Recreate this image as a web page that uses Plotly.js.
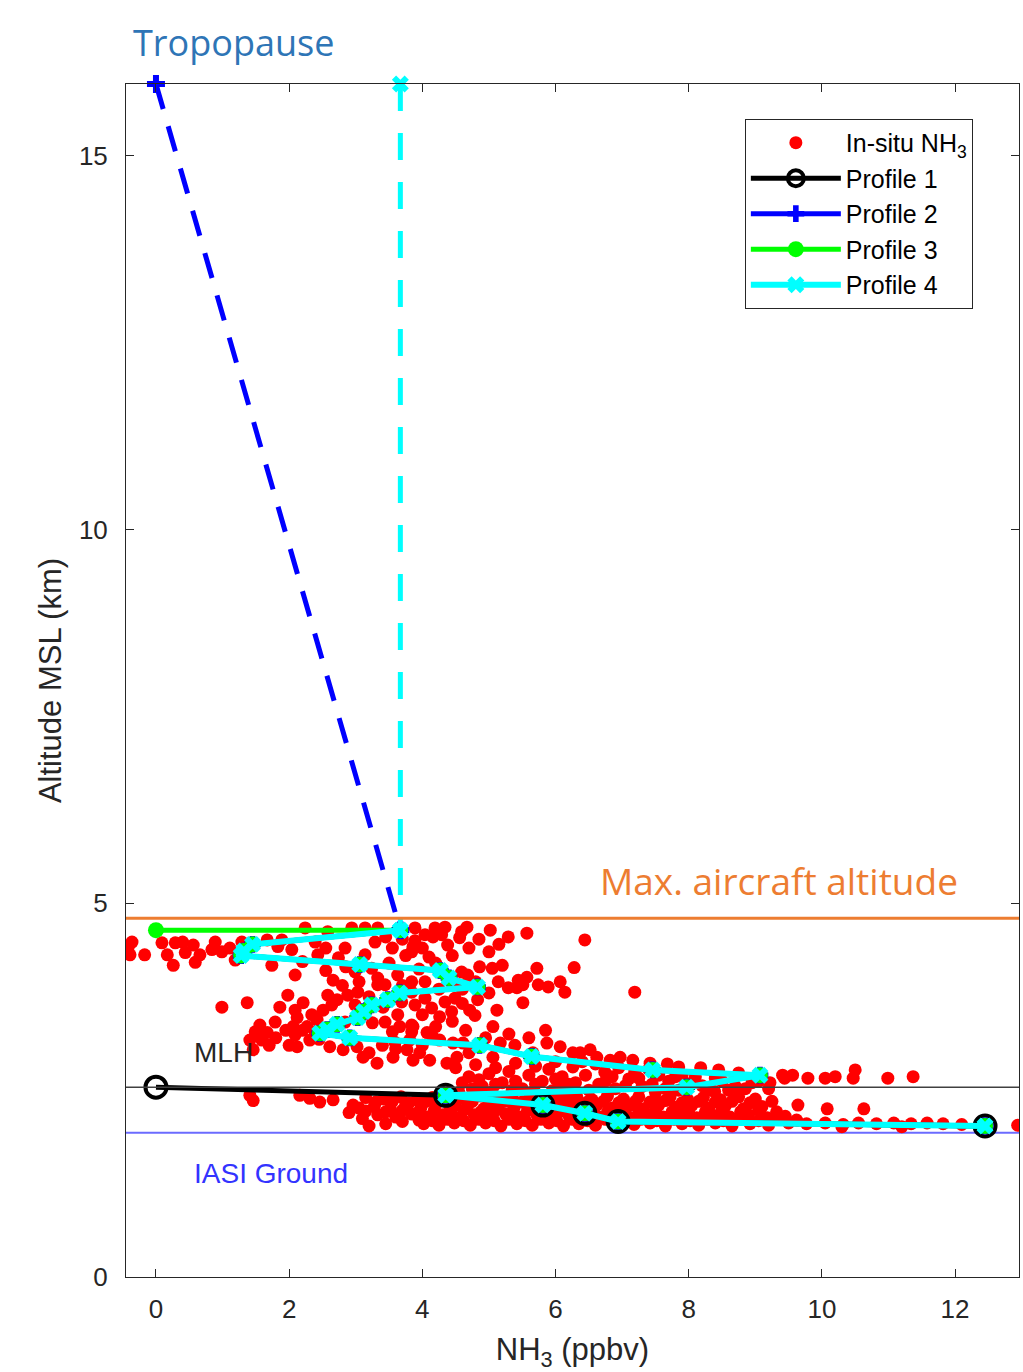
<!DOCTYPE html>
<html>
<head>
<meta charset="utf-8">
<script src="https://cdn.plot.ly/plotly-3.0.1.min.js"></script>
<style>
  html, body { margin: 0; padding: 0; background: #ffffff; }
  #chart { width: 1023px; height: 1372px; }
</style>
</head>
<body>
<div id="chart"></div>
<script>
// ---------------- DATA ----------------
// In-situ NH3 aircraft samples [NH3 ppbv, altitude km]
const insituUpper = [
  [-0.42,4.40],[-0.36,4.48],[-0.39,4.31],[-0.17,4.31],[0.09,4.47],[0.17,4.31],[0.26,4.17],[0.29,4.47],
  [0.40,4.48],[0.44,4.34],[0.56,4.44],[0.59,4.21],[0.66,4.31],[0.84,4.38],[0.89,4.48],[0.99,4.35],
  [1.11,4.40],[1.19,4.24],[1.29,4.48],[1.67,4.51],[1.74,4.17],[1.83,4.42],[1.89,4.51],[2.04,4.38],
  [2.09,4.04],[2.20,4.22],[2.24,4.67],[2.39,4.48],[2.43,4.31],[2.55,4.40],[2.58,4.62],[2.66,3.97],
  [2.74,4.27],[2.84,4.40],[2.94,4.67],[2.99,4.08],[3.14,4.31],[3.14,4.67],[3.24,4.13],[3.29,4.48],
  [3.33,4.67],[3.33,4.00],[3.44,3.91],[3.63,4.04],[3.84,4.35],[3.84,3.95],[3.86,4.42],[3.89,4.67],
  [3.89,4.50],[4.00,4.40],[4.04,4.58],[4.04,3.95],[4.16,4.55],[4.19,4.67],[4.29,4.58],[4.34,4.68],
  [4.38,4.44],[4.49,3.93],[4.56,4.54],[4.59,4.62],[4.59,4.08],[4.67,4.68],[4.68,4.04],[4.86,4.15],
  [5.02,4.64],[5.05,4.13],[5.14,3.95],[5.20,4.17],[5.29,4.55],[5.29,3.87],[5.42,3.87],[5.44,3.97],
  [5.57,4.60],[5.57,4.01],[5.72,4.13],[5.74,3.91],[5.89,3.88],[6.07,3.95],[6.14,3.81],[6.28,4.14],
  [6.44,4.51],[7.19,3.81],
  [3.45,4.55],[3.55,4.40],[3.70,4.52],[3.75,4.30],[4.10,4.28],[4.45,4.30],[4.70,4.40],[4.85,4.52],
  [5.00,4.35],[5.15,4.45],[4.20,4.20],[3.50,4.20],[3.95,4.12],[4.80,3.95],[2.85,4.15],[2.55,4.10],
  [3.05,3.95],[2.80,3.90]
];
const insituMiddle = [
  [0.99,3.61],[1.37,3.67],[1.56,3.37],[1.49,3.28],[1.79,3.41],[1.86,3.61],[1.98,3.77],[2.09,3.57],
  [2.12,3.47],[2.21,3.67],[2.27,3.35],[2.34,3.51],[2.42,3.44],[2.51,3.57],[2.58,3.77],[2.64,3.64],
  [2.72,3.71],[2.88,3.77],[2.99,3.64],[2.84,3.41],[3.03,3.81],[3.33,3.91],[3.41,3.61],[3.44,3.41],
  [3.63,3.51],[3.69,3.68],[3.84,3.81],[3.84,3.37],[3.89,3.64],[4.00,3.51],[4.04,3.73],[4.14,3.60],
  [4.26,3.48],[4.34,3.68],[4.44,3.55],[4.49,3.73],[4.60,3.66],[4.71,3.57],[4.79,3.50],[4.83,3.71],
  [5.06,3.35],[5.12,3.57],[5.51,3.67],[5.51,3.91],[3.86,3.35],[3.66,3.35],[4.07,3.27],[3.84,3.28],
  [5.00,3.80],[4.60,3.85],[4.25,3.85],[3.70,3.90],[3.20,3.75],[3.00,3.45],[3.25,3.40],[3.55,3.28],
  [4.20,3.35],[4.45,3.42],[4.65,3.30]
];
const insituLowerMiddle = [
  [1.41,3.17],[1.46,3.04],[1.59,3.17],[1.67,3.27],[2.06,3.35],[2.09,3.24],[2.12,3.08],[2.31,3.17],
  [2.39,3.28],[2.61,3.08],[2.81,3.04],[3.02,3.08],[3.11,2.94],[3.32,2.86],[3.56,2.94],[3.59,3.14],
  [3.77,3.04],[3.81,3.17],[3.86,2.90],[3.96,3.00],[4.11,2.90],[4.16,3.21],[4.26,3.17],[4.37,2.86],
  [4.46,3.13],[4.52,2.94],[4.61,3.13],[5.06,2.94],[5.17,3.13],[5.39,3.10],[5.66,3.00],[5.87,3.13],
  [6.07,3.08],[6.26,3.00],[6.26,2.81],[6.37,3.00],[6.52,3.04],[6.62,2.94],[6.82,2.90],[6.97,2.94],
  [7.16,2.90],[7.42,2.86],[7.68,2.85],[7.85,2.81],[8.18,2.80],[8.45,2.77],[8.75,2.73],[9.41,2.70],
  [9.56,2.70],
  [4.95,3.20],[5.30,3.25],[5.60,3.20],[5.85,3.30],[3.40,3.10],[3.20,3.00],[3.60,3.05],[4.00,3.10],
  [4.70,3.00],[1.70,3.10],[1.95,3.30],[2.20,3.30],[2.45,3.18],[1.80,3.20],[2.00,3.10]
];
const insituNearMLH = [
  [6.74,2.74],[7.19,2.74],[6.60,2.85],[6.95,2.80],[7.40,2.78],[7.55,2.70],[7.90,2.70],[8.10,2.68],
  [9.22,2.60],[9.44,2.66],[9.79,2.66],[10.05,2.66],[10.20,2.68],[10.47,2.66],[10.50,2.77],[10.99,2.66],
  [11.37,2.68],[4.90,2.55],[5.20,2.60],[5.50,2.52],[5.80,2.62],[6.05,2.55],[6.30,2.60],[6.50,2.50],
  [6.75,2.62],[6.90,2.52],[7.10,2.65],[7.30,2.55],[7.50,2.47],[7.70,2.62],[7.85,2.50],[8.05,2.60],
  [8.30,2.50],[8.50,2.62],[8.70,2.55],[8.95,2.60],[9.20,2.52],[8.39,2.48],[4.70,2.68],[5.00,2.72],
  [5.30,2.75],[5.60,2.70],[5.90,2.78],[6.10,2.68],
  [4.55,2.47],[4.75,2.52],[5.05,2.48],[5.35,2.50],[5.65,2.47],[5.95,2.49],[6.20,2.47],[4.60,2.60],
  [4.85,2.64],[5.10,2.58],[5.40,2.62],[5.70,2.58],[6.00,2.65],[6.20,2.58],[6.45,2.70],[6.65,2.58],
  [6.85,2.68],[7.05,2.56],[7.25,2.66],[7.45,2.58],[7.65,2.52],[7.80,2.68],[7.95,2.58],[8.20,2.56],
  [8.40,2.66],[8.60,2.50],[8.85,2.52],[9.05,2.62],[4.50,2.80],[4.80,2.84],[5.10,2.80],[5.40,2.86],
  [5.70,2.82],[6.00,2.88],[6.40,2.88]
];
const insituBoundaryLayer = [
  [1.41,2.43],[1.46,2.36],[2.16,2.43],[2.31,2.39],[2.46,2.34],[2.66,2.37],[2.96,2.30],[3.15,2.40],
  [3.42,2.38],[3.68,2.41],[3.92,2.37],[4.15,2.40],[4.62,2.39],[4.88,2.42],[5.12,2.37],[5.35,2.41],
  [5.60,2.38],[5.85,2.42],[6.08,2.39],[6.32,2.41],[6.55,2.37],[6.78,2.42],[7.02,2.38],[7.25,2.41],
  [7.50,2.37],[7.72,2.41],[7.98,2.38],[8.22,2.40],[8.48,2.37],[8.75,2.41],[9.00,2.38],
  [3.30,2.34],[3.55,2.35],[3.80,2.33],[4.05,2.35],[4.50,2.34],[4.75,2.35],[5.00,2.33],[5.25,2.35],
  [5.50,2.34],[5.75,2.36],[6.00,2.33],[6.25,2.35],[6.48,2.34],[6.72,2.35],[6.95,2.33],[7.20,2.35],
  [7.42,2.34],[7.65,2.36],[7.90,2.33],[8.15,2.35],[8.40,2.34],[8.65,2.35],[8.92,2.33],[9.25,2.35],
  [3.05,2.26],[3.28,2.29],[3.52,2.25],[3.75,2.30],[3.98,2.27],[4.20,2.30],[4.45,2.26],[4.68,2.29],
  [4.92,2.25],[5.15,2.30],[5.38,2.27],[5.62,2.31],[5.95,2.26],[6.18,2.30],[6.40,2.27],[6.62,2.30],
  [6.85,2.26],[7.10,2.29],[7.32,2.25],[7.55,2.30],[7.80,2.27],[8.05,2.30],[8.30,2.26],[8.55,2.29],
  [8.82,2.25],[9.10,2.28],[9.64,2.30],[10.08,2.25],[10.63,2.25],
  [3.15,2.22],[3.45,2.21],[3.70,2.23],[3.95,2.21],[4.18,2.23],[4.40,2.21],[4.62,2.23],[4.88,2.21],
  [5.10,2.23],[5.35,2.21],[5.58,2.23],[5.82,2.21],[6.08,2.22],[6.32,2.23],[6.78,2.21],[7.00,2.23],
  [7.25,2.21],[7.50,2.23],[7.75,2.21],[8.00,2.23],[8.25,2.21],[8.50,2.23],[8.78,2.21],[9.05,2.23],
  [9.32,2.21],
  [3.33,2.17],[3.60,2.14],[3.84,2.18],[4.08,2.14],[4.30,2.17],[4.55,2.13],[4.78,2.17],[5.00,2.14],
  [5.25,2.18],[5.48,2.14],[5.72,2.17],[5.95,2.13],[6.20,2.16],[6.65,2.14],[6.90,2.17],[7.12,2.13],
  [7.38,2.16],[7.62,2.14],[7.88,2.17],[8.12,2.13],[8.38,2.16],[8.62,2.14],[8.90,2.17],[9.18,2.13],
  [9.45,2.15],
  [3.95,2.10],[4.15,2.09],[4.38,2.11],[4.62,2.09],[4.85,2.11],[5.08,2.09],[5.30,2.11],[5.55,2.09],
  [5.78,2.11],[6.02,2.09],[6.25,2.11],[6.48,2.09],[6.75,2.11],[7.00,2.10],[7.28,2.11],[7.52,2.09],
  [7.78,2.11],[8.02,2.09],[8.28,2.11],[8.52,2.09],[8.78,2.11],[9.05,2.09],[9.35,2.11],[9.62,2.10],
  [4.02,2.05],[4.25,2.03],[4.48,2.06],[4.72,2.03],[4.95,2.06],[5.18,2.02],[5.42,2.05],[5.65,2.03],
  [5.90,2.06],[6.12,2.02],[6.35,2.05],[6.60,2.03],[7.18,2.04],[7.42,2.06],[7.65,2.02],[7.90,2.05],
  [8.15,2.03],[8.40,2.06],[8.65,2.02],[8.92,2.05],[9.20,2.03],[9.50,2.06],[9.77,2.05],[10.05,2.06],
  [10.32,2.04],[10.55,2.06],[10.82,2.05],[11.08,2.06],[11.34,2.05],[11.58,2.06],[11.82,2.05],[12.10,2.04],
  [10.30,2.01],[11.20,2.01],[12.94,2.03],
  [2.90,2.20],[3.10,2.12],[3.45,2.05],[3.70,2.08],[3.20,2.02]
];

// Aircraft-derived profile points (shared by profiles 2, 3 and 4)
const aircraftX = [3.67, 1.45, 1.32, 1.28, 3.06, 4.27, 4.40, 4.83, 3.66, 3.48, 3.24, 3.12, 3.03, 2.72, 2.57, 2.46, 2.91, 4.86, 5.64, 7.46, 9.07, 7.97, 4.35, 5.81, 6.44, 6.94, 12.45];
const aircraftY = [4.64, 4.45, 4.36, 4.30, 4.18, 4.10, 4.00, 3.88, 3.80, 3.71, 3.64, 3.55, 3.47, 3.38, 3.31, 3.26, 3.20, 3.10, 2.95, 2.77, 2.70, 2.54, 2.43, 2.30, 2.19, 2.08, 2.02];

// Profile 1: zero above the mixing layer height
const profile1X = [0, 4.35, 5.81, 6.44, 6.94, 12.45];
const profile1Y = [2.54, 2.43, 2.30, 2.19, 2.08, 2.02];
// Profile 3: zero at maximum aircraft altitude
const profile3TopX = [0];
const profile3TopY = [4.64];
// Extrapolations to the tropopause
const tropopauseAlt = 15.96;
const profile2TropX = 0;      // Profile 2 decreases linearly to 0 at the tropopause
const profile4TropX = 3.67;   // Profile 4 constant up to the tropopause

// Reference altitudes (km)
const maxAircraftAlt = 4.80;
const mlhAlt = 2.54;
const iasiGroundAlt = 1.93;

// Axis ticks
const xTicks = [0, 2, 4, 6, 8, 10, 12];
const yTicks = [0, 5, 10, 15];
const xRange = [-0.45, 12.96];
const yRange = [0, 15.96];

// ---------------- BUILD ----------------
const insitu = [].concat(insituUpper, insituMiddle, insituLowerMiddle, insituNearMLH, insituBoundaryLayer);
const font = 'Liberation Sans, Arial, Helvetica, sans-serif';
const calibriLike = 'Open Sans, Noto Sans, sans-serif';
const axisColor = '#262626';

const traces = [
  {
    name: 'In-situ NH<sub>3</sub>', type: 'scatter', mode: 'markers',
    x: insitu.map(p => p[0]), y: insitu.map(p => p[1]),
    marker: { color: '#ff0000', size: 13, line: { width: 0 } }
  },
  {
    name: 'Profile 1', type: 'scatter', mode: 'lines+markers',
    x: profile1X, y: profile1Y,
    line: { color: '#000000', width: 5 },
    marker: { symbol: 'circle-open', color: '#000000', size: 21, line: { width: 4, color: '#000000' } }
  },
  {
    name: 'Profile 2', type: 'scatter', mode: 'lines+markers',
    x: aircraftX, y: aircraftY,
    line: { color: '#0000ff', width: 5 },
    marker: { symbol: 'cross', color: '#0000ff', size: 14 }
  },
  {
    name: 'Profile 2 extrapolation', type: 'scatter', mode: 'lines+markers', showlegend: false,
    x: [profile2TropX, aircraftX[0]], y: [tropopauseAlt, aircraftY[0]],
    line: { color: '#0000ff', width: 5, dash: '26px,18px' },
    marker: { symbol: 'cross', color: '#0000ff', size: 15 },
    cliponaxis: false
  },
  {
    name: 'Profile 3', type: 'scatter', mode: 'lines+markers',
    x: profile3TopX.concat(aircraftX), y: profile3TopY.concat(aircraftY),
    line: { color: '#00ff00', width: 5 },
    marker: { symbol: 'circle', color: '#00ff00', size: 16 }
  },
  {
    name: 'Profile 4', type: 'scatter', mode: 'lines+markers',
    x: aircraftX, y: aircraftY,
    line: { color: '#00ffff', width: 6 },
    marker: { symbol: 'x', color: '#00ffff', size: 15 }
  },
  {
    name: 'Profile 4 extrapolation', type: 'scatter', mode: 'lines+markers', showlegend: false,
    x: [profile4TropX, aircraftX[0]], y: [tropopauseAlt, aircraftY[0]],
    line: { color: '#00ffff', width: 5, dash: '27px,22px' },
    marker: { symbol: 'x', color: '#00ffff', size: 15 },
    cliponaxis: false
  }
];

const hline = (y, color, width, layer) => ({
  type: 'line', xref: 'x domain', x0: 0, x1: 1, yref: 'y', y0: y, y1: y,
  line: { color: color, width: width }, layer: layer
});

const layout = {
  width: 1023, height: 1372,
  margin: { l: 126, r: 4, t: 84, b: 95 },
  paper_bgcolor: '#ffffff', plot_bgcolor: '#ffffff',
  font: { family: font, color: axisColor },
  showlegend: true,
  xaxis: {
    range: xRange, tickvals: xTicks, ticktext: xTicks.map(String),
    ticks: 'inside', ticklen: 8, tickwidth: 1, tickcolor: axisColor,
    showline: true, linecolor: axisColor, linewidth: 1, mirror: 'ticks',
    showgrid: false, zeroline: false,
    tickfont: { family: font, size: 26, color: axisColor },
    ticklabelstandoff: 9,
    title: { text: 'NH<sub>3</sub> (ppbv)', font: { family: font, size: 31, color: axisColor }, standoff: 31 },
    automargin: false
  },
  yaxis: {
    range: yRange, tickvals: yTicks, ticktext: yTicks.map(String),
    ticks: 'inside', ticklen: 8, tickwidth: 1, tickcolor: axisColor,
    showline: true, linecolor: axisColor, linewidth: 1, mirror: 'ticks',
    showgrid: false, zeroline: false,
    tickfont: { family: font, size: 26, color: axisColor },
    ticklabelstandoff: 12,
    title: { text: 'Altitude MSL (km)', font: { family: font, size: 31, color: axisColor }, standoff: 8 },
    automargin: false
  },
  legend: {
    x: 0.693, y: 0.9707, xanchor: 'left', yanchor: 'top',
    bgcolor: '#ffffff', bordercolor: axisColor, borderwidth: 1,
    font: { family: font, size: 25, color: '#000000' },
    itemsizing: 'trace', itemwidth: 90, tracegroupgap: 0
  },
  shapes: [
    hline(iasiGroundAlt, '#6b6bff', 2, 'below'),
    hline(mlhAlt, '#404040', 1.5, 'above'),
    hline(maxAircraftAlt, '#ed7d31', 3, 'above')
  ],
  annotations: [
    { text: 'Tropopause', xref: 'paper', yref: 'paper', x: 0.0056, y: 1.0352, xanchor: 'left', yanchor: 'middle',
      showarrow: false, font: { family: calibriLike, size: 36, color: '#2e75b6' } },
    { text: 'Max. aircraft altitude', xref: 'x', yref: 'y', x: 6.64, y: 5.31, xanchor: 'left', yanchor: 'middle',
      showarrow: false, font: { family: calibriLike, size: 37, color: '#ed7d31' } },
    { text: 'MLH', xref: 'x', yref: 'y', x: 0.54, y: 3.0, xanchor: 'left', yanchor: 'middle',
      showarrow: false, font: { family: font, size: 28, color: '#262626' } },
    { text: 'IASI Ground', xref: 'x', yref: 'y', x: 0.54, y: 1.39, xanchor: 'left', yanchor: 'middle',
      showarrow: false, font: { family: font, size: 28, color: '#3333ff' } }
  ]
};

Plotly.newPlot('chart', traces, layout, { displayModeBar: false, staticPlot: true });
</script>
</body>
</html>
